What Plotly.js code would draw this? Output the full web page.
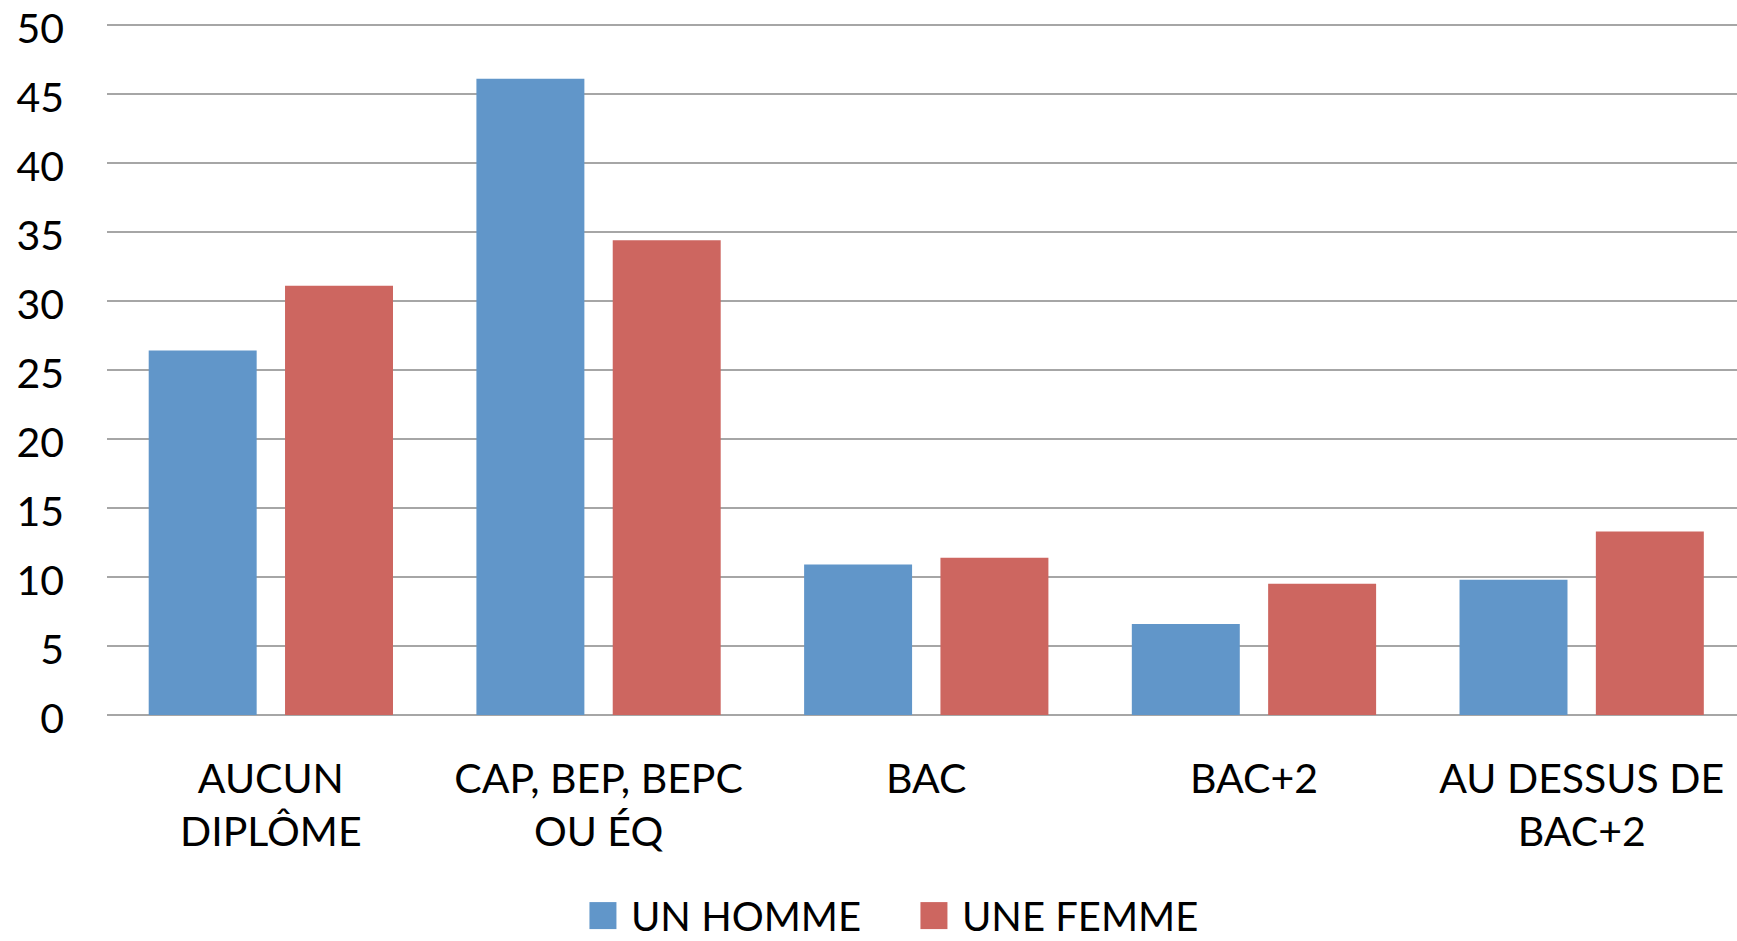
<!DOCTYPE html>
<html>
<head>
<meta charset="utf-8">
<script src="https://cdn.plot.ly/plotly-3.0.1.min.js"></script>
<style>
  html, body { margin: 0; padding: 0; background: #ffffff; overflow: hidden; }
  #chart { width: 1737px; height: 941px; }
</style>
</head>
<body>
<div id="chart"></div>
<script>
// ---- data ----
const categories = [
  "AUCUN<br>DIPLÔME",
  "CAP, BEP, BEPC<br>OU ÉQ",
  "BAC",
  "BAC+2",
  "AU DESSUS DE<br>BAC+2"
];
const seriesNames = ["UN HOMME", "UNE FEMME"];
const hommeValues = [26.4, 46.1, 10.9, 6.6, 9.8];
const femmeValues = [31.1, 34.4, 11.4, 9.5, 13.3];
const yTickValues = [0, 5, 10, 15, 20, 25, 30, 35, 40, 45, 50];

// ---- styles ----
const FONT = "Lato, 'Open Sans', sans-serif";
const colors = ["#6196C9", "#CD6660"];

const traces = [
  { type: "bar", name: seriesNames[0], x: categories, y: hommeValues,
    marker: { color: colors[0] }, hoverinfo: "y" },
  { type: "bar", name: seriesNames[1], x: categories, y: femmeValues,
    marker: { color: colors[1] }, hoverinfo: "y" }
];

const layout = {
  width: 1737,
  height: 941,
  margin: { l: 107, r: 0, t: 11, b: 226, pad: 0 },
  paper_bgcolor: "#ffffff",
  plot_bgcolor: "#ffffff",
  font: { family: FONT, size: 41, color: "#000000" },
  barmode: "group",
  bargap: 0.168,
  bargroupgap: 0.208,
  showlegend: true,
  legend: {
    orientation: "h",
    xref: "container", yref: "container",
    x: 0.331, xanchor: "left",
    y: 0.027, yanchor: "middle",
    font: { family: FONT, size: 40, color: "#000000" },
    itemwidth: 46,
    entrywidth: 270, entrywidthmode: "pixels",
    bgcolor: "rgba(0,0,0,0)",
    itemclick: false, itemdoubleclick: false
  },
  xaxis: {
    type: "category",
    range: [-0.5, 4.474],
    automargin: false,
    showgrid: false,
    showline: false,
    ticks: "",
    ticklabelstandoff: 36,
    tickfont: { family: FONT, size: 41, color: "#000000" },
    fixedrange: true
  },
  yaxis: {
    range: [0, 51],
    automargin: false,
    tickvals: yTickValues,
    ticktext: yTickValues.map(String),
    showgrid: true,
    gridcolor: "#A6A6A6",
    gridwidth: 2,
    zeroline: true,
    zerolinecolor: "#A6A6A6",
    zerolinewidth: 2,
    showline: false,
    ticks: "",
    ticklabelstandoff: 42,
    ticklabelshift: 4,
    ticklabeloverflow: "allow",
    tickfont: { family: FONT, size: 41, color: "#000000" },
    fixedrange: true
  }
};

function enlargeLegendSymbols(gd) {
  gd.querySelectorAll(".legend .legendpoints path").forEach(p => {
    if (!p.dataset.scaled) {
      const t = p.getAttribute("transform") || "";
      p.setAttribute("transform", (t + " scale(2.25)").trim());
      p.dataset.scaled = "1";
    }
  });
}

Plotly.newPlot("chart", traces, layout, { displayModeBar: false, staticPlot: true }).then(gd => {
  enlargeLegendSymbols(gd);
  gd.on("plotly_afterplot", () => enlargeLegendSymbols(gd));
});
</script>
</body>
</html>
